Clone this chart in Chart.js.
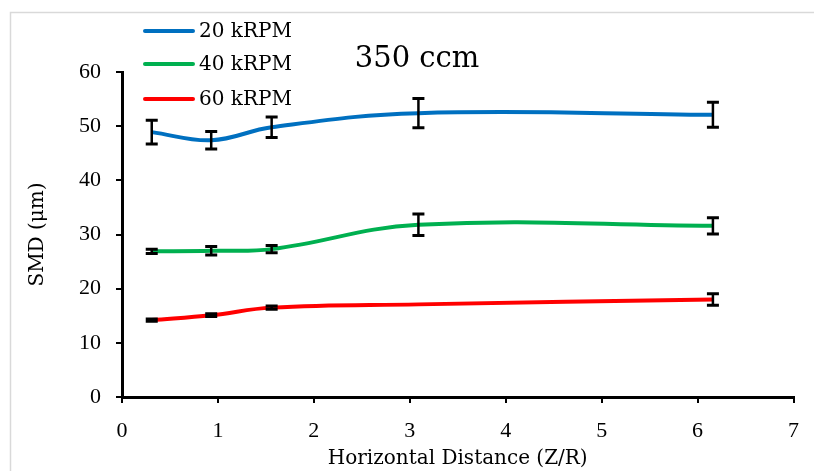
<!DOCTYPE html>
<html>
<head>
<meta charset="utf-8">
<script src="https://cdn.jsdelivr.net/npm/chart.js@4.4.1/dist/chart.umd.min.js"></script>
<style>
  html, body { margin: 0; padding: 0; background: #fff; }
  canvas { display: block; }
</style>
</head>
<body>
<canvas id="smdChart" width="814" height="471"></canvas>
<script>
// values
const distance = [0.31, 0.93, 1.56, 3.09, 6.16];
const seriesNames = ['20 kRPM', '40 kRPM', '60 kRPM'];
const seriesColors = ['#0070C0', '#00B050', '#FF0000'];
const smd20 = [48.9, 47.4, 49.8, 52.4, 52.1];
const smd40 = [26.9, 27.0, 27.3, 31.8, 31.6];
const smd60 = [14.2, 15.1, 16.5, 17.1, 18.0];
const err20 = [2.2, 1.6, 1.9, 2.7, 2.3];
const err40 = [0.4, 0.8, 0.65, 2.0, 1.5];
const err60 = [0.2, 0.25, 0.3, null, 1.05];
const xTicks = [0, 1, 2, 3, 4, 5, 6, 7];
const yTicks = [0, 10, 20, 30, 40, 50, 60];

const FONT = 'DejaVu Serif';
const TICK_FONT = 'Liberation Serif';
const allValues = [smd20, smd40, smd60];
const allErrors = [err20, err40, err60];

const toPoints = vals => vals.map((v, i) => ({x: distance[i], y: v}));

// light frame, legend, inset title
const decor = {
  id: 'decor',
  beforeDraw(chart) {
    const c = chart.ctx;
    c.save();
    c.fillStyle = '#fff';
    c.fillRect(0, 0, chart.width, chart.height);
    c.strokeStyle = '#d9d9d9';
    c.lineWidth = 1.5;
    c.strokeRect(10.5, 12.5, 900, 600);
    c.restore();
  },
  afterDraw(chart) {
    const c = chart.ctx;
    c.save();
    const rows = [31, 64, 99];
    chart.data.datasets.forEach((ds, i) => {
      c.strokeStyle = ds.borderColor;
      c.lineWidth = 4;
      c.lineCap = 'round';
      c.beginPath();
      c.moveTo(145, rows[i]);
      c.lineTo(193, rows[i]);
      c.stroke();
      c.fillStyle = '#000';
      c.font = '20px "' + FONT + '"';
      c.textBaseline = 'middle';
      c.fillText(ds.label, 199, rows[i] + 1);
    });
    c.font = '29px "' + FONT + '"';
    c.textAlign = 'center';
    c.textBaseline = 'middle';
    c.fillText('350 ccm', 417, 59);
    c.restore();
  }
};

// black error bars with caps
const errorBars = {
  id: 'errorBars',
  afterDatasetsDraw(chart) {
    const c = chart.ctx;
    const xs = chart.scales.x, ys = chart.scales.y;
    c.save();
    c.strokeStyle = '#000';
    allValues.forEach((vals, s) => {
      vals.forEach((v, i) => {
        const e = allErrors[s][i];
        if (e == null) return;
        const px = xs.getPixelForValue(distance[i]);
        const top = ys.getPixelForValue(v + e);
        const bot = ys.getPixelForValue(v - e);
        c.lineWidth = 2.5;
        c.beginPath();
        c.moveTo(px, top);
        c.lineTo(px, bot);
        c.stroke();
        c.lineWidth = 3;
        c.beginPath();
        c.moveTo(px - 6, top);
        c.lineTo(px + 6, top);
        c.moveTo(px - 6, bot);
        c.lineTo(px + 6, bot);
        c.stroke();
      });
    });
    c.restore();
  }
};

const ctx = document.getElementById('smdChart').getContext('2d');
new Chart(ctx, {
  type: 'line',
  data: {
    datasets: allValues.map((vals, i) => ({
      label: seriesNames[i],
      data: toPoints(vals),
      borderColor: seriesColors[i],
      backgroundColor: seriesColors[i],
      borderWidth: 4,
      pointRadius: 0,
      tension: 0.4,
      fill: false
    }))
  },
  options: {
    responsive: false,
    animation: false,
    layout: { padding: { top: 72, right: 18, left: 10, bottom: 0 } },
    plugins: { legend: { display: false }, tooltip: { enabled: false } },
    scales: {
      x: {
        type: 'linear',
        min: 0, max: 7,
        afterBuildTicks: s => { s.ticks = xTicks.map(v => ({value: v})); },
        afterFit: s => { s.height = 74; },
        ticks: { color: '#000', font: { family: TICK_FONT, size: 22 }, padding: 15, maxRotation: 0 },
        grid: { drawOnChartArea: false, drawTicks: true, tickLength: 6, color: '#000', lineWidth: 2 },
        border: { color: '#000', width: 3 },
        title: { display: true, text: 'Horizontal Distance (Z/R)', color: '#000', font: { family: FONT, size: 20 }, padding: { top: 0, bottom: 0 } }
      },
      y: {
        min: 0, max: 60,
        afterBuildTicks: s => { s.ticks = yTicks.map(v => ({value: v})); },
        afterFit: s => { s.width = 112; },
        ticks: { color: '#000', font: { family: TICK_FONT, size: 22 }, padding: 15 },
        grid: { drawOnChartArea: false, drawTicks: true, tickLength: 6, color: '#000', lineWidth: 2 },
        border: { color: '#000', width: 3 },
        title: { display: true, text: 'SMD (μm)', color: '#000', font: { family: FONT, size: 20 }, padding: { top: 16, bottom: 0 } }
      }
    }
  },
  plugins: [decor, errorBars]
});
</script>
</body>
</html>
